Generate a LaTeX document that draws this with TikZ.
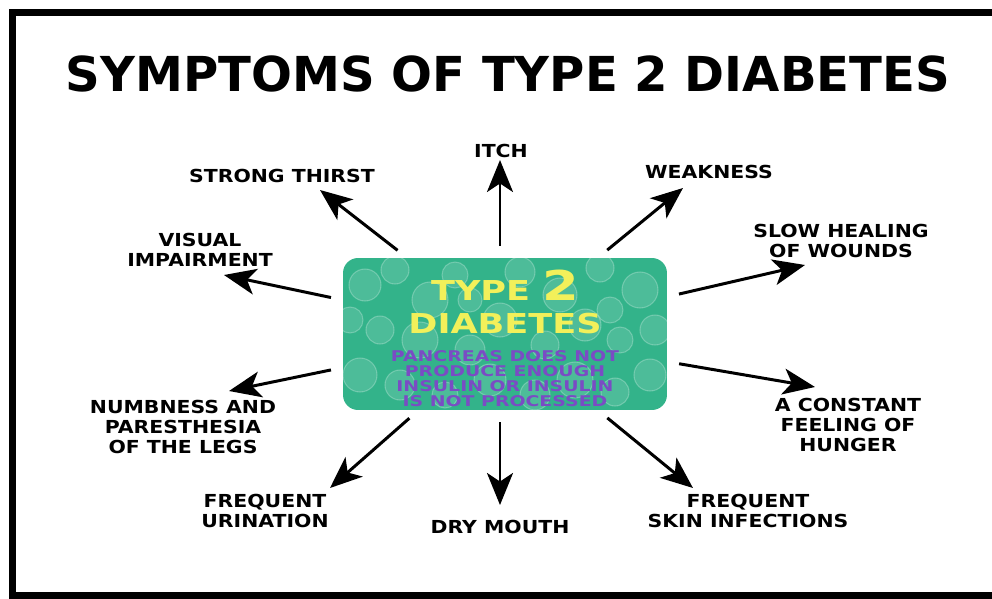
\documentclass[tikz,border=0pt]{standalone}
\usepackage{fontspec}
\setmainfont{DejaVu Sans}
\newfontfamily\labelface[FakeStretch=1.14]{DejaVu Sans}
\newfontfamily\boxface[FakeStretch=1.28]{DejaVu Sans}
\usetikzlibrary{arrows.meta}

\definecolor{boxgreen}{HTML}{33B38A}
\definecolor{typeyellow}{HTML}{F2F05A}
\definecolor{notepurple}{HTML}{7A4CC4}

\tikzset{
  symptom/.style={font=\labelface\bfseries\fontsize{10.2}{11.2}\selectfont, align=center, inner sep=1pt},
  sym/.style={line width=1.7pt, shorten <=4\pgflinewidth,
    -{Stealth[length=0.64cm, width=0.52cm, inset=0.17cm]}},
  bubble/.style={fill=white, fill opacity=0.13, draw=white, draw opacity=0.25, line width=0.6pt}
}

\begin{document}
\begin{tikzpicture}[x=0.02cm, y=-0.02cm]
  \useasboundingbox (0,0) rectangle (992,599);
  % frame
  \draw[line width=0.14cm] (12.5,1000) -- (12.5,12.5) -- (1010,12.5);
  \draw[line width=0.14cm] (12.5,595.5) -- (1010,595.5);

  % title
  \node[font=\bfseries\fontsize{27.4}{30}\selectfont] (title) at (508,74) {SYMPTOMS OF TYPE 2 DIABETES};

  % central box
  \node[fill=boxgreen, rounded corners=0.3cm, minimum width=6.48cm, minimum height=3.04cm] (core) at (505,334) {};
  \begin{scope}
    \clip[rounded corners=0.3cm] (343,258) rectangle (667,410);
    \foreach \bx/\by/\br in {365/285/16, 395/270/14, 430/300/18, 455/275/13, 520/272/15, 560/295/17,
        600/268/14, 640/290/18, 655/330/15, 620/340/13, 585/325/16, 545/345/14, 500/320/17,
        470/350/15, 420/340/18, 380/330/14, 360/375/17, 400/385/15, 445/395/13, 490/380/16,
        535/395/15, 575/380/18, 615/392/14, 650/375/16, 470/300/12, 610/310/13, 350/320/13}
      \draw[bubble] (\bx,\by) circle (\br);
  \end{scope}
  \node[text=typeyellow, font=\boxface\bfseries\fontsize{15.6}{17}\selectfont, anchor=base] (type) at (505,300)
    {TYPE {\fontsize{23.4}{24}\selectfont 2}};
  \node[text=typeyellow, font=\boxface\bfseries\fontsize{15.6}{17}\selectfont, anchor=base] (dia) at (505,333) {DIABETES};
  \node[text=notepurple, font=\boxface\bfseries\fontsize{8.4}{8.6}\selectfont, align=center, anchor=north] (note) at (505,344)
    {PANCREAS DOES NOT\\PRODUCE ENOUGH\\INSULIN OR INSULIN\\IS NOT PROCESSED};

  % symptoms
  \node[symptom] (itch) at (501,151) {ITCH};
  \node[symptom] (thirst) at (282,176) {STRONG THIRST};
  \node[symptom] (weak) at (709,172) {WEAKNESS};
  \node[symptom] (visual) at (200,250) {VISUAL\\IMPAIRMENT};
  \node[symptom] (heal) at (841,241) {SLOW HEALING\\OF WOUNDS};
  \node[symptom] (numb) at (183,427) {NUMBNESS AND\\PARESTHESIA\\OF THE LEGS};
  \node[symptom] (hunger) at (848,425) {A CONSTANT\\FEELING OF\\HUNGER};
  \node[symptom] (urin) at (265,511) {FREQUENT\\URINATION};
  \node[symptom] (mouth) at (500,527) {DRY MOUTH};
  \node[symptom] (skin) at (748,511) {FREQUENT\\SKIN INFECTIONS};

  % arrow tips
  \coordinate (t-itch) at (500,160);
  \coordinate (t-thirst) at (320,190);
  \coordinate (t-weak) at (683,188);
  \coordinate (t-visual) at (224,275);
  \coordinate (t-heal) at (805,265);
  \coordinate (t-numb) at (229,391);
  \coordinate (t-hunger) at (815,387);
  \coordinate (t-urin) at (330,488);
  \coordinate (t-mouth) at (500,505);
  \coordinate (t-skin) at (693,488);

  \foreach \s in {thirst,weak,visual,heal,numb,hunger,urin,skin}
    \draw[sym] (core) -- (t-\s);
  \draw[sym] (core.north -| t-itch) -- (t-itch);
  \draw[sym] (core.south -| t-mouth) -- (t-mouth);
\end{tikzpicture}
\end{document}
